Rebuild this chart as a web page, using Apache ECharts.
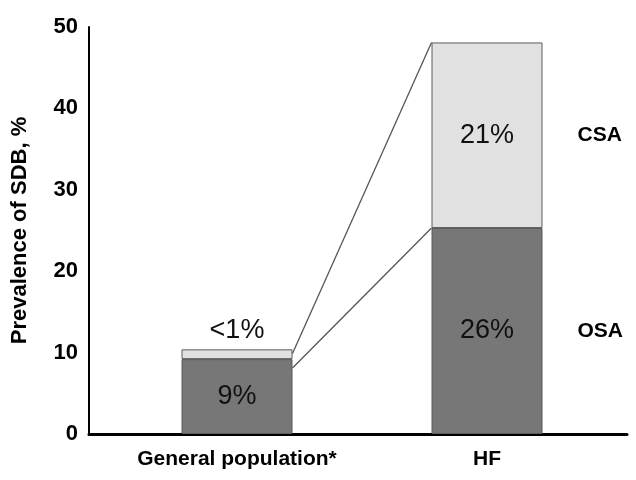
<!DOCTYPE html>
<html>
<head>
<meta charset="utf-8">
<script src="https://cdn.jsdelivr.net/npm/echarts@6/dist/echarts.min.js"></script>
<style>html,body{margin:0;padding:0;background:#fff}#c{width:636px;height:480px}</style>
</head>
<body>
<div id="c"></div>
<script>
// ---- data ----
const categories = ['General population*', 'HF'];
const seriesNames = ['OSA', 'CSA'];
const osaValues = [9.2, 25.3];
const csaValues = [1.2, 22.8];
const osaLabels = ['9%', '26%'];
const csaLabels = ['<1%', '21%'];
const yTicks = [0, 10, 20, 30, 40, 50];
// connector lines: value where each line meets the right edge of the first bar
const connectorStartValues = [9.9, 8.1];
// and the value at the left edge of the second bar (stack tops)
const connectorEndValues = [osaValues[1] + csaValues[1], osaValues[1]];

// ---- layout/style constants ----
const BOLDF = "'Liberation Sans',Arial,sans-serif";
const REG = "'Liberation Sans',Arial,sans-serif";
const TOP = 27, BOTTOM = 46;
const G1_LEFT = 112, G1_WIDTH = 500;
const BAR_WIDTH = 111;
const halfUnits = (BAR_WIDTH / 2) / (G1_WIDTH / categories.length);

const chart = echarts.init(document.getElementById('c'), null, {renderer: 'canvas'});

const osaData = osaValues.map((v, i) => ({
  value: v,
  label: {show: true, position: 'inside', formatter: osaLabels[i]},
}));
const csaData = csaValues.map((v, i) => ({
  value: v,
  label: {
    show: true,
    position: i === 0 ? 'top' : 'inside',
    distance: 5,
    formatter: csaLabels[i]
  }
}));
// side labels (series names) next to the HF bar
const sideLabel = (name) => ({
  show: true, position: 'right', distance: 35, formatter: name,
  fontFamily: BOLDF, fontWeight: 'bold', fontSize: 21, color: '#000'
});

const connectors = connectorStartValues.map((v, i) => ({
  type: 'line',
  xAxisIndex: 2, yAxisIndex: 1,
  data: [[halfUnits, v], [1 - halfUnits, connectorEndValues[i]]],
  symbol: 'none',
  silent: true,
  z: 1,
  lineStyle: {color: '#555', width: 1.3}
}));

const option = {
  backgroundColor: '#fff',
  animation: false,
  grid: [
    {left: 89, right: 9, top: TOP, bottom: BOTTOM},
    {left: G1_LEFT, width: G1_WIDTH, top: TOP, bottom: BOTTOM}
  ],
  xAxis: [
    {
      gridIndex: 0, type: 'category', data: [''],
      axisLine: {lineStyle: {color: '#000', width: 3}},
      axisTick: {show: false}, axisLabel: {show: false}
    },
    {
      gridIndex: 1, type: 'category', data: categories,
      axisLine: {show: false}, axisTick: {show: false},
      axisLabel: {
        interval: 0, hideOverlap: false,
        margin: 15, fontFamily: BOLDF, fontWeight: 'bold', fontSize: 21, color: '#000'
      }
    },
    {
      gridIndex: 1, type: 'value', min: -0.5, max: 1.5, show: false
    }
  ],
  yAxis: [
    {
      gridIndex: 0, type: 'value', min: yTicks[0], max: yTicks[yTicks.length - 1], interval: 10,
      name: 'Prevalence of SDB, %', nameLocation: 'middle', nameGap: 58,
      nameTextStyle: {fontFamily: REG, fontWeight: 'bold', fontSize: 22, color: '#000'},
      axisLine: {show: true, lineStyle: {color: '#000', width: 2}},
      axisTick: {show: false},
      splitLine: {show: false},
      axisLabel: {margin: 11, fontFamily: BOLDF, fontWeight: 'bold', fontSize: 22, color: '#000'}
    },
    {
      gridIndex: 1, type: 'value', min: yTicks[0], max: yTicks[yTicks.length - 1], interval: 10,
      show: false, splitLine: {show: false}
    }
  ],
  series: [
    {
      name: seriesNames[0], type: 'bar', stack: 'sdb',
      xAxisIndex: 1, yAxisIndex: 1, barWidth: BAR_WIDTH,
      itemStyle: {color: '#777777', borderColor: '#5a5a5a', borderWidth: 1},
      label: {fontFamily: REG, fontSize: 27, color: '#111'},
      data: osaData,
      z: 2
    },
    {
      name: seriesNames[1], type: 'bar', stack: 'sdb',
      xAxisIndex: 1, yAxisIndex: 1, barWidth: BAR_WIDTH,
      itemStyle: {color: '#e1e1e1', borderColor: '#5a5a5a', borderWidth: 1},
      label: {fontFamily: REG, fontSize: 27, color: '#111'},
      data: csaData,
      z: 2
    },
    // series-name labels, attached to invisible copies of the HF bar segments
    {
      type: 'bar', stack: 'side', xAxisIndex: 1, yAxisIndex: 1, barWidth: BAR_WIDTH,
      silent: true, barGap: '-100%',
      itemStyle: {color: 'rgba(0,0,0,0)'},
      data: osaValues.map((v, i) => i === 1 ? {value: v, label: sideLabel(seriesNames[0])} : {value: v}),
      z: 0
    },
    {
      type: 'bar', stack: 'side', xAxisIndex: 1, yAxisIndex: 1, barWidth: BAR_WIDTH,
      silent: true,
      itemStyle: {color: 'rgba(0,0,0,0)'},
      data: csaValues.map((v, i) => i === 1 ? {value: v, label: sideLabel(seriesNames[1])} : {value: v}),
      z: 0
    },
    ...connectors
  ]
};
chart.setOption(option);
</script>
</body>
</html>
